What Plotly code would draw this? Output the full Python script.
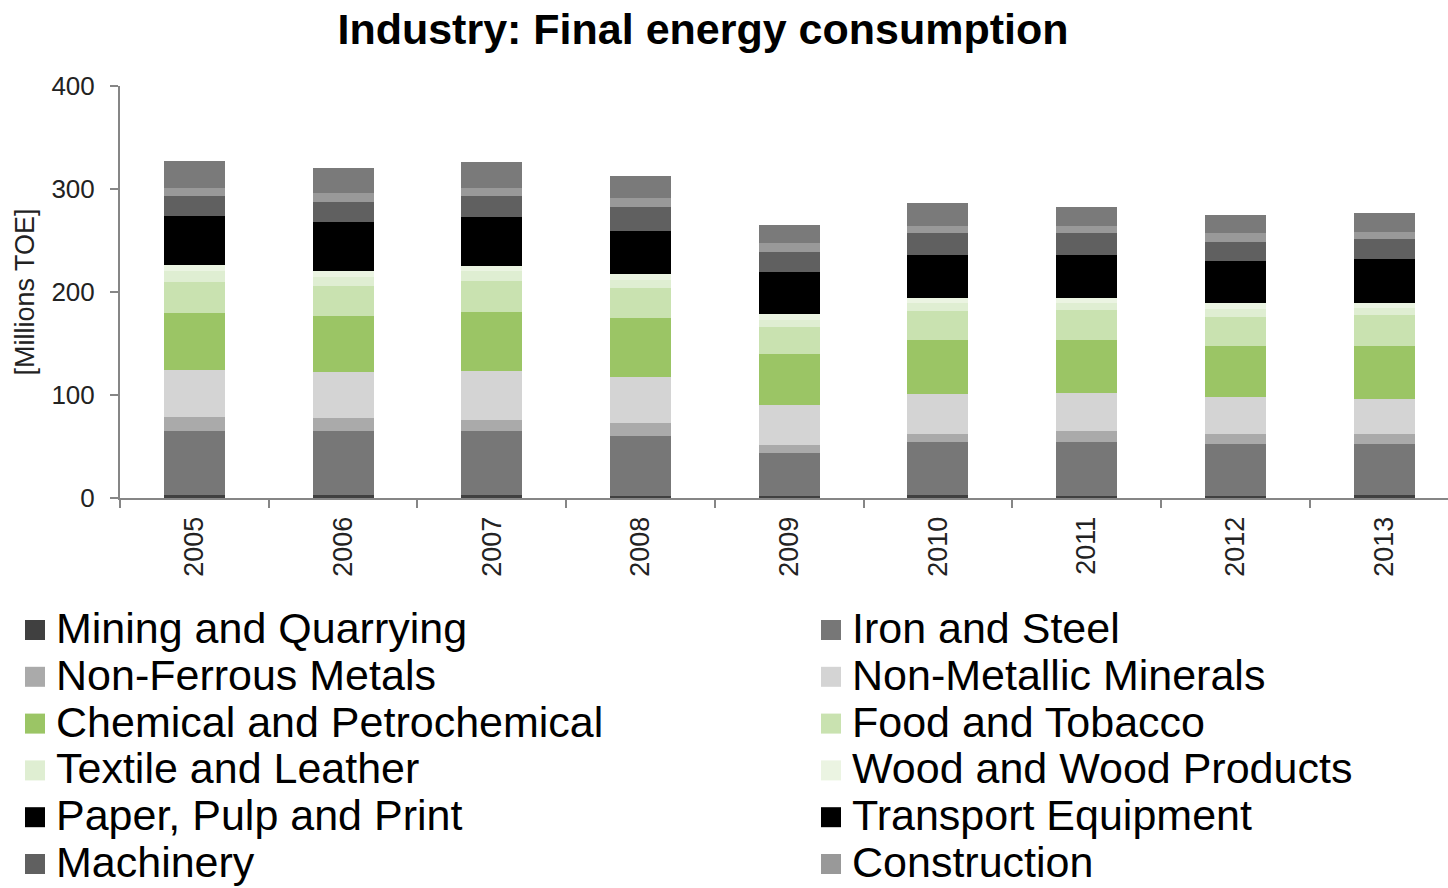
import plotly.graph_objects as go

years = ["2005", "2006", "2007", "2008", "2009", "2010", "2011", "2012", "2013"]

mining = [3.0, 2.9, 2.9, 2.0, 2.0, 2.9, 2.0, 1.5, 2.9]
iron_steel = [62.0, 62.1, 62.1, 58.5, 42.0, 51.8, 52.8, 51.0, 49.5]
non_ferrous = [14.0, 13.0, 10.7, 12.0, 7.5, 7.1, 10.3, 9.7, 9.7]
non_metallic = [45.4, 44.6, 47.6, 45.3, 38.8, 39.2, 37.2, 36.2, 33.7]
chemical = [55.0, 54.1, 57.6, 56.7, 49.5, 52.4, 51.2, 49.6, 52.1]
food = [30.7, 29.1, 29.8, 29.1, 26.5, 28.2, 29.1, 28.1, 29.8]
textile = [10.0, 9.1, 9.3, 8.4, 6.5, 8.0, 6.5, 7.0, 6.3]
wood = [6.5, 5.5, 5.5, 5.2, 5.8, 4.9, 5.5, 6.0, 5.6]
paper = [37.9, 38.8, 38.6, 36.5, 35.0, 36.6, 35.4, 33.0, 35.1]
transport = [9.0, 8.4, 8.4, 5.8, 6.0, 4.8, 6.0, 8.4, 7.0]
machinery = [20.0, 20.1, 20.7, 23.3, 19.4, 21.1, 21.1, 18.4, 19.5]
construction = [7.5, 8.1, 8.1, 8.2, 8.2, 7.1, 7.1, 8.2, 7.3]
non_specified = [25.8, 24.3, 24.6, 21.9, 17.7, 22.0, 18.7, 17.8, 18.5]

series = [
    ("Mining and Quarrying", mining, "#404040", True),
    ("Iron and Steel", iron_steel, "#777777", True),
    ("Non-Ferrous Metals", non_ferrous, "#aaaaaa", True),
    ("Non-Metallic Minerals", non_metallic, "#d4d4d4", True),
    ("Chemical and Petrochemical", chemical, "#9bc565", True),
    ("Food and Tobacco", food, "#c9e2b0", True),
    ("Textile and Leather", textile, "#dfeed2", True),
    ("Wood and Wood Products", wood, "#ebf4e2", True),
    ("Paper, Pulp and Print", paper, "#000000", True),
    ("Transport Equipment", transport, "#000000", True),
    ("Machinery", machinery, "#606060", True),
    ("Construction", construction, "#999999", True),
    ("Non-specified (Industry)", non_specified, "#7a7a7a", False),
]

W, H = 1448, 888
L, R, T, B = 120, 0, 86, 390
PW, PH = W - L - R, H - T - B
FONT = "Liberation Sans, Arial, sans-serif"

fig = go.Figure()
for name, vals, color, _ in series:
    fig.add_trace(go.Bar(
        x=years, y=vals, name=name, width=0.41,
        marker=dict(color=color, line=dict(width=0)),
        showlegend=False,
    ))

# Legend drawn as two columns of text entries (tight Excel-like spacing)
def px_to_paper(xp, yp):
    return (xp - L) / PW, (T + PH - yp) / PH

annotations = []
shapes = []
legend_items = [s for s in series if s[3]]
for i, (name, _, color, _) in enumerate(legend_items):
    row, col = divmod(i, 2)
    ycen = 630 + row * 46.8
    sq_x = 25 if col == 0 else 821
    tx = 54 if col == 0 else 850
    ax, ay = px_to_paper(tx, ycen - 2)
    annotations.append(dict(
        x=ax, y=ay, xref="paper", yref="paper", xanchor="left", yanchor="middle",
        text=name, showarrow=False, font=dict(family=FONT, size=43, color="#000000"),
    ))
    x0, y0 = px_to_paper(sq_x, ycen - 10)
    x1, y1 = px_to_paper(sq_x + 20, ycen + 10)
    shapes.append(dict(type="rect", xref="paper", yref="paper", x0=x0, x1=x1, y0=y1, y1=y0,
                       fillcolor=color, line=dict(width=0)))

fig.update_layout(
    width=W, height=H,
    margin=dict(l=L, r=R, t=T, b=B, autoexpand=False),
    barmode="stack",
    paper_bgcolor="white", plot_bgcolor="white",
    font=dict(family=FONT, color="#222222"),
    title=dict(text="<b>Industry: Final energy consumption</b>", x=703 / W, xref="container",
               xanchor="center", y=1 - 29 / H, yref="container", yanchor="middle",
               font=dict(family=FONT, size=43, color="#000000")),
    xaxis=dict(type="category", range=[-0.5, 8.43], tickson="boundaries", ticks="outside",
               ticklen=8, tickcolor="#868686", tickwidth=2, showline=True, linecolor="#868686",
               linewidth=2, showgrid=False, tickangle=-90, tickfont=dict(size=27, color="#222222"),
               ticklabelstandoff=6, automargin=False),
    yaxis=dict(range=[0, 400], dtick=100, ticks="outside", ticklen=8, tickcolor="#868686",
               tickwidth=2, showline=True, linecolor="#868686", linewidth=2, showgrid=False,
               zeroline=False, tickfont=dict(size=26, color="#222222"), ticklabelstandoff=10,
               automargin=False,
               title=dict(text="[Millions TOE]", standoff=9,
                          font=dict(size=27, color="#222222"))),
    annotations=annotations,
    shapes=shapes,
)

fig.write_html(
    "out.html",
    config={"displayModeBar": False},
    post_script="document.body.style.margin='0';document.body.style.overflow='hidden';",
)
